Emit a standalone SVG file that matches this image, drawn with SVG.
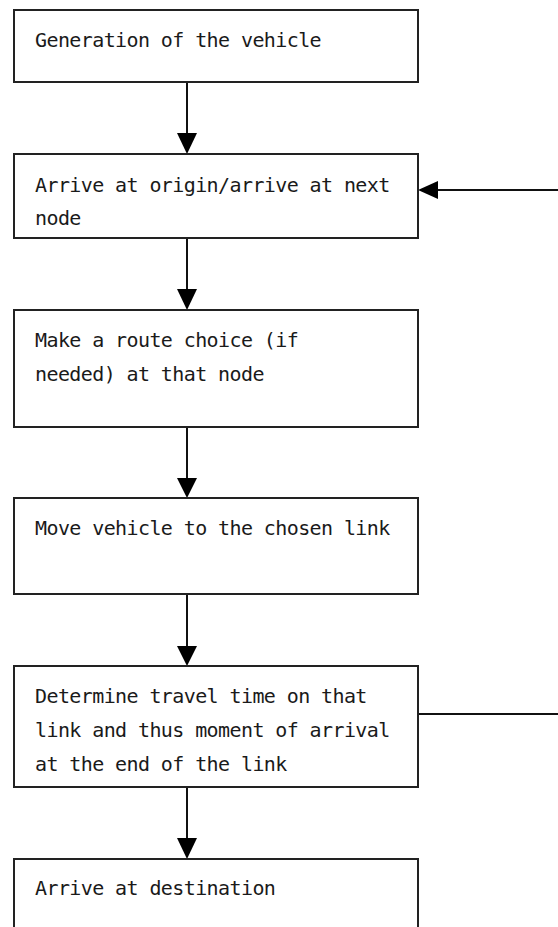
<svg xmlns="http://www.w3.org/2000/svg" width="558" height="927" viewBox="0 0 558 927">
  <style>
    .box { fill: #ffffff; stroke: #222222; stroke-width: 2; }
    .label { font-family: "DejaVu Sans Mono", "Liberation Mono", monospace; font-size: 20px; letter-spacing: -0.6px; fill: #1a1a1a; }
    .wire { fill: none; stroke: #111111; stroke-width: 2; }
    .head { fill: #000000; }
  </style>
  <rect width="558" height="927" fill="#ffffff"/>

  <!-- connectors -->
  <g id="connectors">
    <line class="wire" x1="187" y1="82" x2="187" y2="136"/>
    <polygon class="head" points="177,133 197,133 187,154"/>

    <line class="wire" x1="187" y1="238" x2="187" y2="292"/>
    <polygon class="head" points="177,289 197,289 187,310"/>

    <line class="wire" x1="187" y1="427" x2="187" y2="481"/>
    <polygon class="head" points="177,478 197,478 187,498"/>

    <line class="wire" x1="187" y1="594" x2="187" y2="649"/>
    <polygon class="head" points="177,646 197,646 187,666"/>

    <line class="wire" x1="187" y1="787" x2="187" y2="841"/>
    <polygon class="head" points="177,838 197,838 187,859"/>

    <!-- loop back from travel-time step to the node arrival step -->
    <line class="wire" x1="418" y1="714" x2="558" y2="714"/>
    <line class="wire" x1="558" y1="190" x2="436" y2="190"/>
    <polygon class="head" points="438,181 438,199 418,190"/>
  </g>

  <g id="generate">
    <rect class="box" x="14" y="10" width="404" height="72"/>
    <text class="label" x="35" y="47">Generation of the vehicle</text>
  </g>

  <g id="arrive-node">
    <rect class="box" x="14" y="154" width="404" height="84"/>
    <text class="label" x="35" y="192">Arrive at origin/arrive at next</text>
    <text class="label" x="35" y="225">node</text>
  </g>

  <g id="route-choice">
    <rect class="box" x="14" y="310" width="404" height="117"/>
    <text class="label" x="35" y="347">Make a route choice (if</text>
    <text class="label" x="35" y="381">needed) at that node</text>
  </g>

  <g id="move-vehicle">
    <rect class="box" x="14" y="498" width="404" height="96"/>
    <text class="label" x="35" y="535">Move vehicle to the chosen link</text>
  </g>

  <g id="travel-time">
    <rect class="box" x="14" y="666" width="404" height="121"/>
    <text class="label" x="35" y="703">Determine travel time on that</text>
    <text class="label" x="35" y="737">link and thus moment of arrival</text>
    <text class="label" x="35" y="771">at the end of the link</text>
  </g>

  <g id="destination">
    <rect class="box" x="14" y="859" width="404" height="90"/>
    <text class="label" x="35" y="895">Arrive at destination</text>
  </g>
</svg>
